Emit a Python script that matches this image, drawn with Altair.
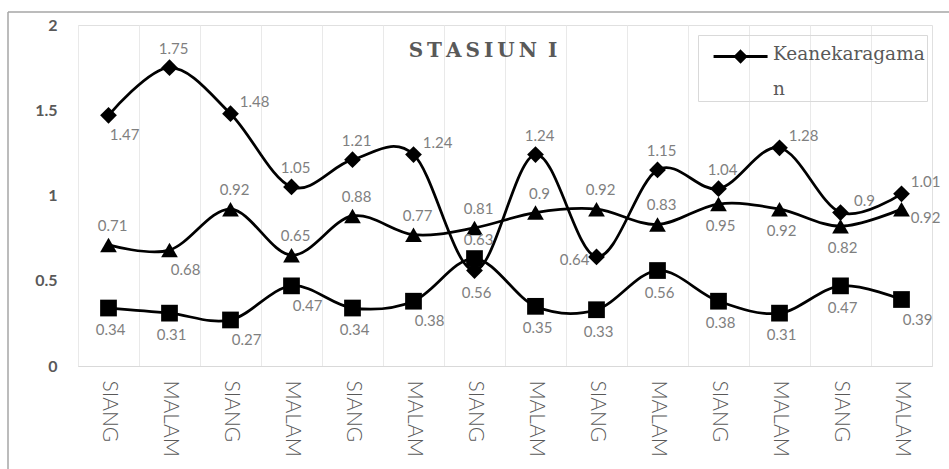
import json
import altair as alt
import pandas as pd

# ---- data ----
x_labels = ["SIANG", "MALAM"] * 7
series_names = ["Keanekaragaman", "Keseragaman", "Dominansi"]
keanekaragaman = [1.47, 1.75, 1.48, 1.05, 1.21, 1.24, 0.56, 1.24, 0.64, 1.15, 1.04, 1.28, 0.90, 1.01]
keseragaman = [0.71, 0.68, 0.92, 0.65, 0.88, 0.77, 0.81, 0.90, 0.92, 0.83, 0.95, 0.92, 0.82, 0.92]
dominansi = [0.34, 0.31, 0.27, 0.47, 0.34, 0.38, 0.63, 0.35, 0.33, 0.56, 0.38, 0.31, 0.47, 0.39]

# data-label placement (annotation layout)
pos_keanekaragaman = ["belowright", "above", "aboveright", "above", "above", "aboveright", "below",
                      "above", "left", "above", "above", "aboveright", "aboveright", "aboveright"]
pos_keseragaman = ["above", "belowright", "above", "above", "above", "above", "above",
                   "above", "above", "above", "below", "below", "below", "right"]
pos_dominansi = ["below", "below", "belowright", "belowright", "below", "belowright", "above",
                 "below", "below", "below", "below", "below", "below", "belowright"]

rows = []
for name, vals, poss in zip(series_names,
                            [keanekaragaman, keseragaman, dominansi],
                            [pos_keanekaragaman, pos_keseragaman, pos_dominansi]):
    for i, (v, p) in enumerate(zip(vals, poss)):
        rows.append({"idx": i, "series": name, "value": v, "pos": p})
df = pd.DataFrame(rows)

label_expr = json.dumps(x_labels) + "[datum.value]"
GRAY = "#595959"

base = alt.Chart(df).encode(
    x=alt.X("idx:O",
            scale=alt.Scale(type="band", paddingInner=0, paddingOuter=0),
            axis=alt.Axis(title=None, labelExpr=label_expr, labelAngle=90, labelAlign="left",
                          labelBaseline="middle", labelPadding=14, ticks=False,
                          domainColor="#d9d9d9", grid=True, gridColor="#e9e9e9",
                          bandPosition=0, labelFont="Lato", labelFontSize=21,
                          labelFontWeight=300, labelColor=GRAY)),
    y=alt.Y("value:Q",
            scale=alt.Scale(domain=[0, 2], nice=False),
            axis=alt.Axis(title=None, values=[0, 0.5, 1, 1.5, 2], format="~g", grid=False,
                          domain=False, ticks=False, labelPadding=21, labelFont="Lato",
                          labelFontSize=16, labelFontWeight="bold", labelColor=GRAY)),
)

line_others = base.transform_filter(alt.datum.series != "Keanekaragaman").mark_line(
    color="black", strokeWidth=2.75, interpolate="cardinal"
).encode(detail="series:N")

# legend: line-with-diamond symbol, series name wrapped over two lines (as in the reference)
legend_name = series_names[0]
legend_lines = [legend_name[:13], legend_name[13:]]
legend_symbol = "M-0.33,0H2.67M1.17,-0.28L1.45,0L1.17,0.28L0.89,0Z"
line_k = base.transform_filter(alt.datum.series == "Keanekaragaman").mark_line(
    strokeWidth=2.75, interpolate="cardinal"
).encode(
    color=alt.Color("series:N",
                    scale=alt.Scale(domain=["Keanekaragaman"], range=["black"]),
                    legend=alt.Legend(title=legend_lines, titleOrient="right",
                                      titleFont="DejaVu Serif", titleFontSize=18.5,
                                      titleFontWeight="normal", titleColor=GRAY,
                                      titleLineHeight=35, titleAnchor="start",
                                      titleBaseline="line-top", titlePadding=-1, titleLimit=400,
                                      orient="none", legendX=620, legendY=10,
                                      symbolType=legend_symbol, symbolSize=1296,
                                      symbolStrokeWidth=3, symbolFillColor="black",
                                      symbolStrokeColor="black", labelExpr="''",
                                      labelOffset=0, padding=2, strokeColor="#d9d9d9"))
)

points = base.mark_point(filled=True, opacity=1, color="black", size=280).encode(
    shape=alt.Shape("series:N",
                    scale=alt.Scale(domain=series_names, range=["diamond", "triangle-up", "square"]),
                    legend=None)
)

offsets = {"above": (4, -19), "below": (2, 22), "aboveright": (24, -12),
           "belowright": (16, 20), "right": (24, 9), "left": (-22, 3)}
texts = []
for p, (dx, dy) in offsets.items():
    texts.append(
        base.transform_filter(alt.datum.pos == p).mark_text(
            dx=dx, dy=dy, font="Lato", fontSize=15, color="#7f7f7f"
        ).encode(text=alt.Text("value:Q", format=".2~f"))
    )

frame = pd.DataFrame({"k": [0]})
left_rule = alt.Chart(frame).mark_rule(color="#a6a6a6", strokeWidth=1.5).encode(
    x=alt.value(-70), y=alt.value(-13), y2=alt.value(450))
top_rule = alt.Chart(frame).mark_rule(color="#a6a6a6", strokeWidth=1.5).encode(
    x=alt.value(-70), x2=alt.value(880), y=alt.value(-13))

title_text = "\u2009".join("STASIUN") + " \u2009I"

chart = alt.layer(left_rule, top_rule, line_others, line_k, points, *texts).properties(
    width=854, height=341,
    padding={"left": 78, "top": 25, "right": 17, "bottom": 103},
    autosize=alt.AutoSizeParams(type="none"),
    title=alt.TitleParams(title_text, font="DejaVu Serif", fontSize=20, fontWeight="bold",
                          color=GRAY, offset=-50, dx=-22, anchor="middle"),
    background="white",
).configure_view(stroke="#e0e0e0", strokeWidth=1)

chart.save("out.html", embed_options={"renderer": "svg", "actions": False})
